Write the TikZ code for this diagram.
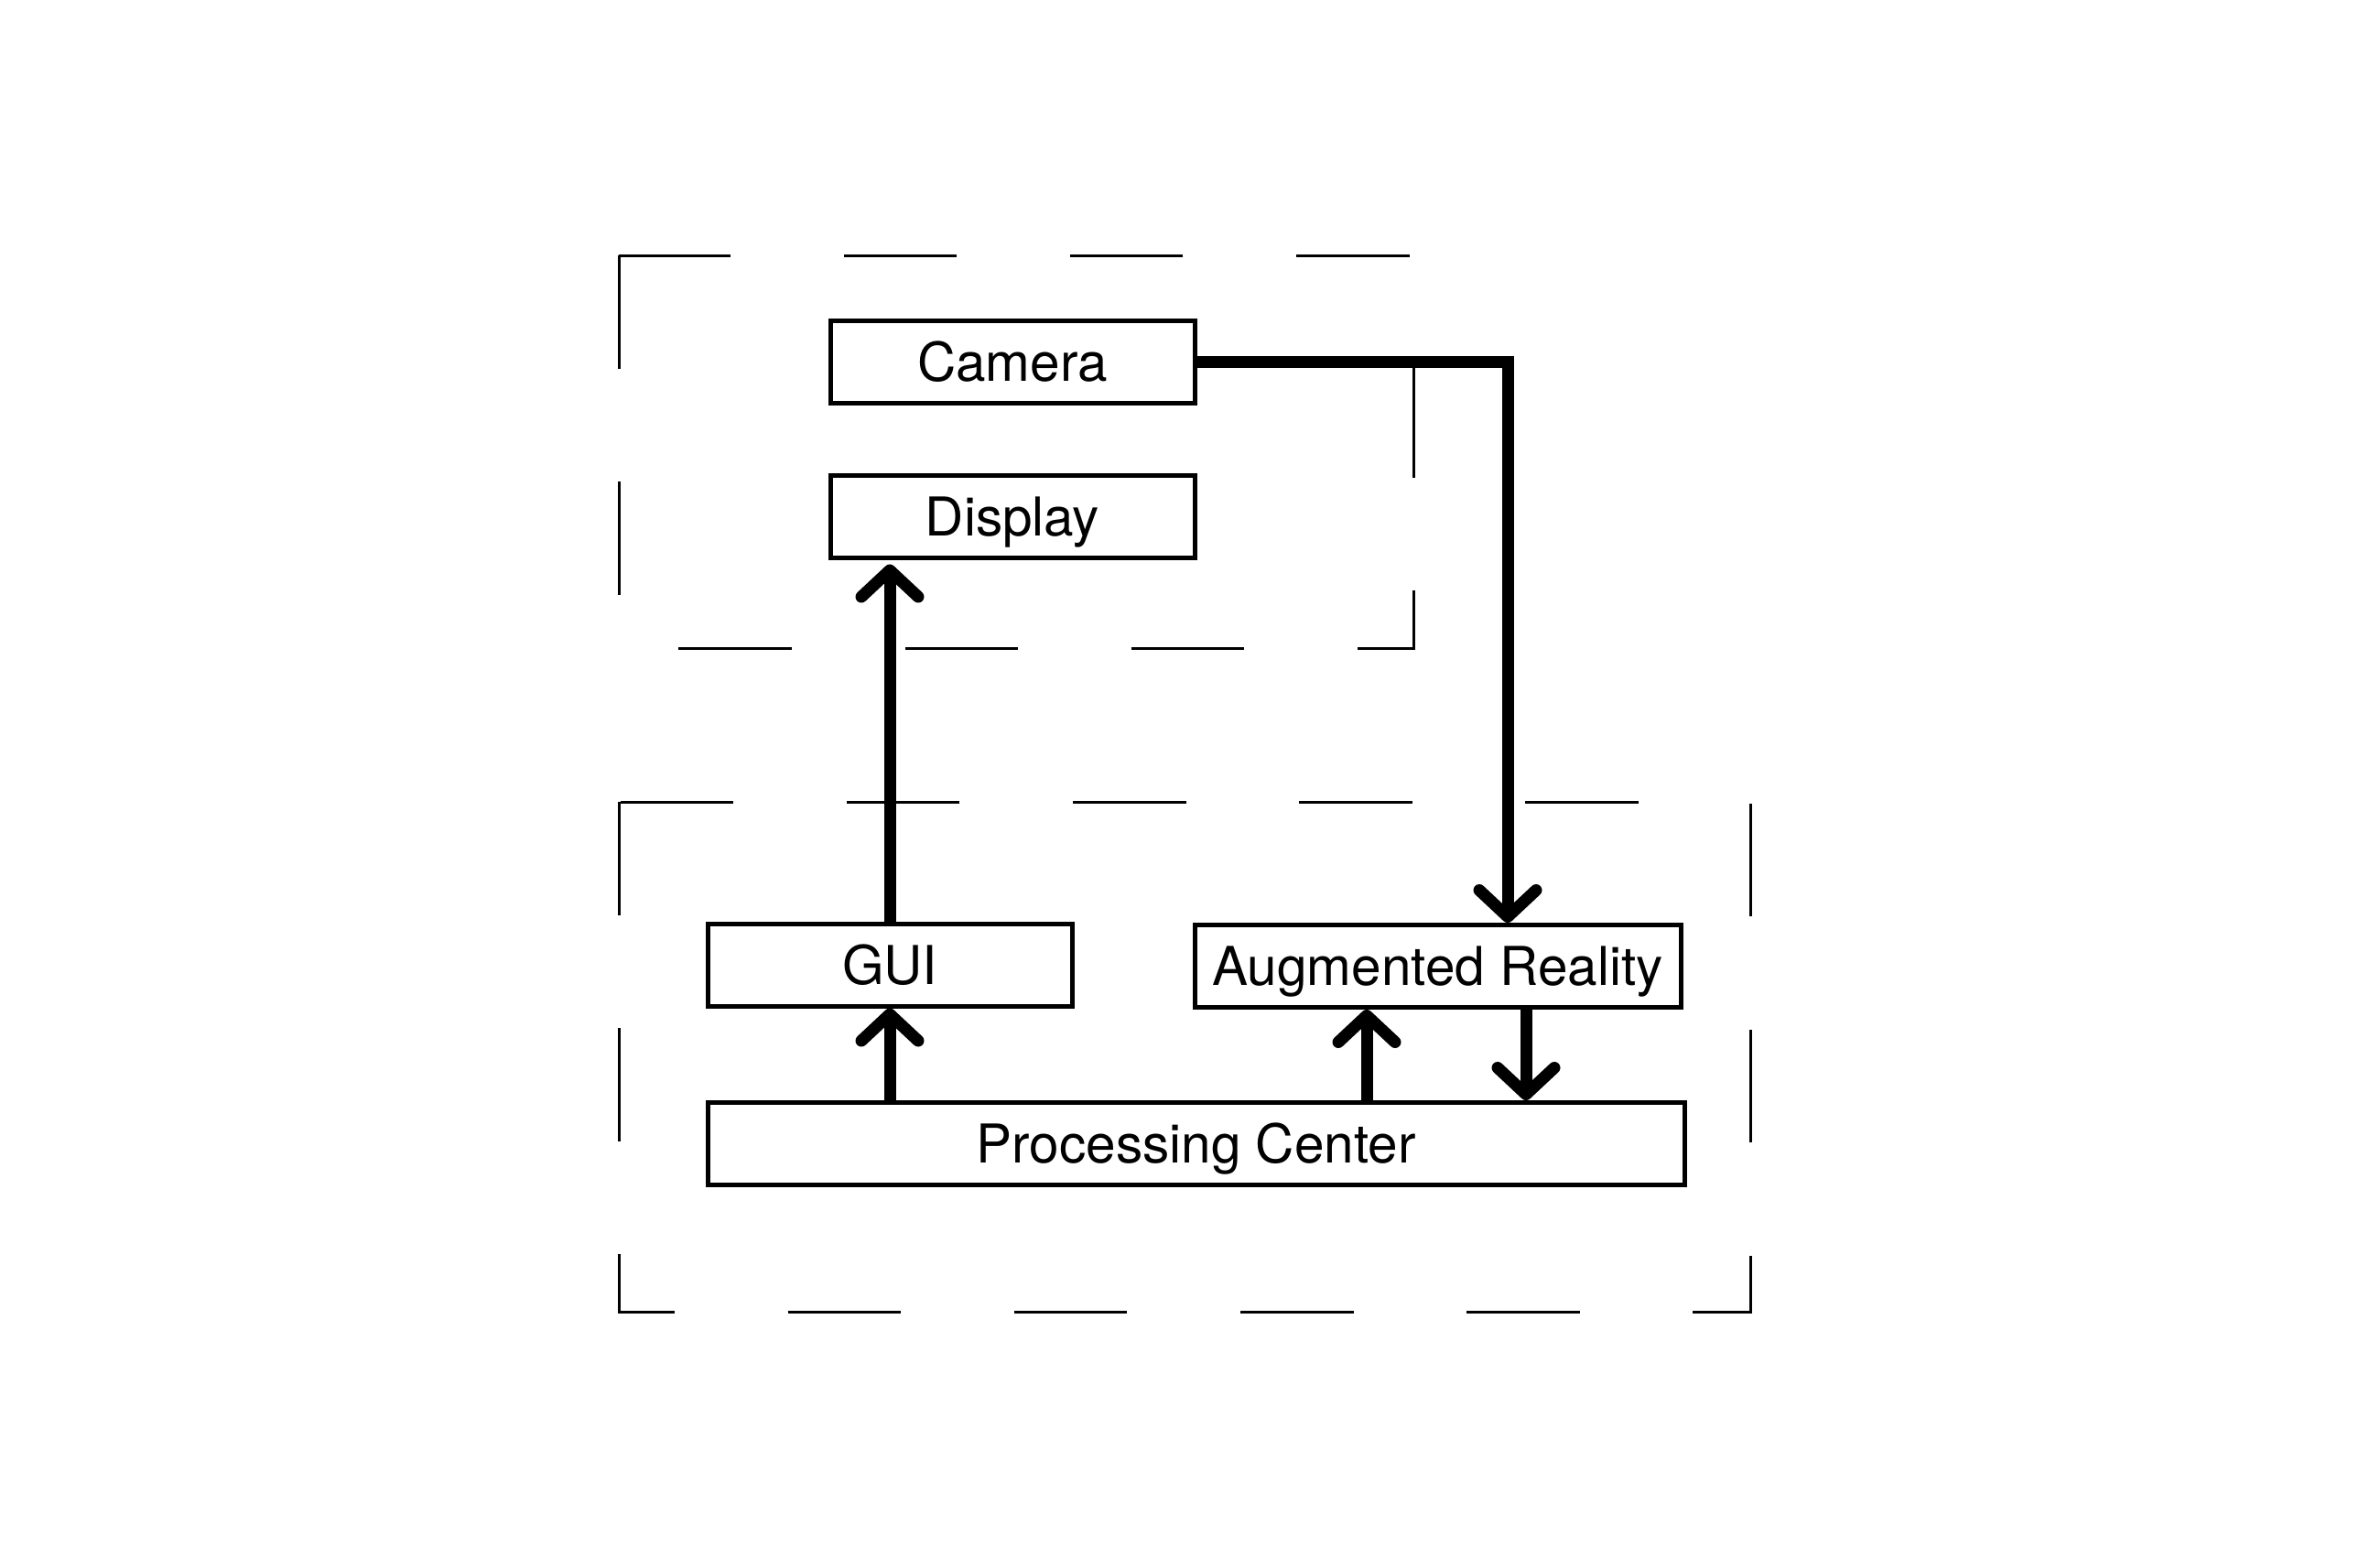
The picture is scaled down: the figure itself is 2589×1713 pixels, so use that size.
\documentclass[tikz,border=0pt]{standalone}
\usepackage{fontspec}
\setmainfont{TeX Gyre Heros}
\usetikzlibrary{arrows.meta}
\tikzset{
  blk/.style={draw=black, fill=white, line width=5pt, inner sep=0pt,
    minimum height=90pt, text height=42pt, text depth=0pt,
    font=\fontsize{58.5}{60}\selectfont},
  grp/.style={draw=black, line width=3pt, dash pattern=on 123.6pt off 123.6pt},
  arr/.style={draw=black, line width=13pt,
    -{Straight Barb[length=29pt, width=62pt, round]}}
}
\begin{document}
\begin{tikzpicture}[x=1pt, y=-1pt]
\useasboundingbox (0,0) rectangle (2589,1713);
% group frames
\draw[grp] (676,279) rectangle (1544,708);
\draw[grp] (676,876) rectangle (1912,1433);
% blocks
\node[blk, minimum width=398pt] (cam) at (1106,395.5) {Camera};
\node[blk, minimum width=398pt] (disp) at (1106,564) {Display};
\node[blk, minimum width=398pt] (gui) at (972,1054) {GUI};
\node[blk, minimum width=531pt] (ar) at (1570.5,1055.5) {Augmented Reality};
\node[blk, minimum width=1067pt] (pc) at (1306.5,1249.5) {Processing Center};
% helper coordinates
\coordinate (arin) at ([xshift=76.5pt]ar.north);
\coordinate (arup) at ([xshift=-77.5pt]ar.south);
\coordinate (ardn) at ([xshift=96.5pt]ar.south);
% connectors
\draw[arr, shorten >=5pt] (gui.north) -- (gui.north |- disp.south);
\draw[arr] (cam.east) -| (arin);
\draw[arr] (gui.south |- pc.north) -- (gui.south);
\draw[arr] (arup |- pc.north) -- (arup);
\draw[arr] (ardn) -- (ardn |- pc.north);
\end{tikzpicture}
\end{document}
